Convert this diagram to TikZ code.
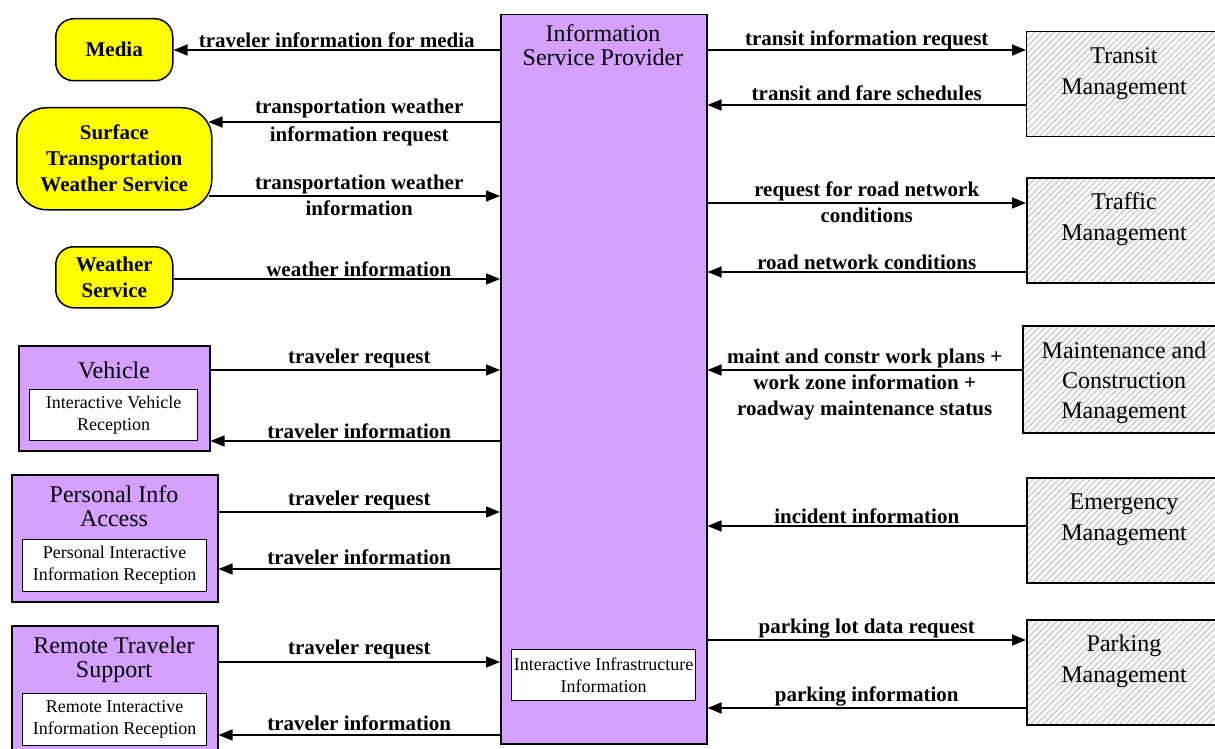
\documentclass[tikz,border=0pt]{standalone}
\usepackage{fontspec}
\setmainfont{Liberation Serif}
\usetikzlibrary{arrows.meta,patterns.meta}
\definecolor{ispc}{RGB}{213,160,255}
\definecolor{yel}{RGB}{255,255,0}
\definecolor{hatchbg}{RGB}{248,248,248}
\definecolor{hatchln}{RGB}{200,200,200}
\tikzset{
 box/.style={draw, line width=1.5pt, anchor=north west, inner sep=0pt},
 pbox/.style={box, fill=ispc},
 ybox/.style={box, fill=yel, font=\fontsize{21}{26}\selectfont\bfseries, align=center},
 hbox/.style={box, preaction={fill=hatchbg}, pattern={Lines[angle=45,distance=4.5pt,line width=1.1pt]}, pattern color=hatchln},
 htxt/.style={font=\fontsize{24}{31}\selectfont, align=center, inner sep=0pt},
 ibox/.style={draw, line width=1.2pt, fill=white, anchor=north west, inner sep=0pt, font=\fontsize{18}{22}\selectfont, align=center},
 ttl/.style={font=\fontsize{24}{24}\selectfont, align=center, inner sep=0pt},
 arr/.style={line width=1.6pt, -{Triangle[length=14pt,width=11pt]}},
 lab/.style={font=\fontsize{21}{26}\selectfont\bfseries, align=center, inner sep=1pt},
 labb/.style={lab, below, yshift=-3pt},
}
\begin{document}
\begin{tikzpicture}[x=1pt,y=-1pt]
\useasboundingbox (0,0) rectangle (1215,749);
% central box
\node[pbox, minimum width=206pt, minimum height=729pt] (isp) at (500,14) {};
\node[ttl] (ispt) at (603,45) {Information\\Service Provider};
\node[ibox, minimum width=184pt, minimum height=51pt] (ispi) at (511,649) {Interactive Infrastructure\\Information};
% yellow boxes
\node[ybox, rounded corners=18pt, minimum width=117pt, minimum height=62pt] (media) at (55,18) {Media};
\node[ybox, rounded corners=30pt, minimum width=195pt, minimum height=102pt] (stws) at (16,107) {Surface\\Transportation\\Weather Service};
\node[ybox, rounded corners=18pt, minimum width=117pt, minimum height=61pt] (ws) at (55,246) {Weather\\Service};
% purple client boxes
\node[pbox, minimum width=191pt, minimum height=105pt] (veh) at (18,345) {};
\node[ttl] (veht) at (114,370) {Vehicle};
\node[ibox, minimum width=168pt, minimum height=51pt] (vehi) at (29,389) {Interactive Vehicle\\Reception};
\node[pbox, minimum width=206pt, minimum height=127pt] (pia) at (11,474) {};
\node[ttl] (piat) at (114,506) {Personal Info\\Access};
\node[ibox, minimum width=184pt, minimum height=52pt] (piai) at (22,539) {Personal Interactive\\Information Reception};
\node[pbox, minimum width=206pt, minimum height=140pt] (rts) at (11,625) {};
\node[ttl] (rtst) at (114,660) {Remote Traveler\\Support};
\node[ibox, minimum width=184pt, minimum height=52pt] (rtsi) at (22,693) {Remote Interactive\\Information Reception};
% hatched boxes
\node[hbox, minimum width=196pt, minimum height=105pt] (tm) at (1026,31) {};
\node[htxt] (tmt) at (1124,74) {Transit\\Management};
\node[hbox, minimum width=196pt, minimum height=105pt] (trm) at (1026,177) {};
\node[htxt] (trmt) at (1124,219) {Traffic\\Management};
\node[hbox, minimum width=200pt, minimum height=107pt] (mcm) at (1022,325) {};
\node[htxt, font=\fontsize{24}{30}\selectfont] (mcmt) at (1124,383) {Maintenance and\\Construction\\Management};
\node[hbox, minimum width=196pt, minimum height=105pt] (em) at (1026,477) {};
\node[htxt] (emt) at (1124,520) {Emergency\\Management};
\node[hbox, minimum width=196pt, minimum height=105pt] (pm) at (1026,619) {};
\node[htxt] (pmt) at (1124,661) {Parking\\Management};
% left connectors
\draw[arr] (isp.west |- 0,50) -- node[lab,above]{traveler information for media} (media.east |- 0,50);
\draw[arr] (isp.west |- 0,122) -- node[lab,above,yshift=2pt,xshift=5pt]{transportation weather} node[labb,xshift=5pt]{information request} ([xshift=-4pt]stws.east |- 0,122);
\draw[arr] ([xshift=-4pt]stws.east |- 0,196) -- node[lab,above,xshift=5pt]{transportation weather} node[labb,xshift=5pt]{information} (isp.west |- 0,196);
\draw[arr] (ws.east |- 0,279) -- node[lab,above,xshift=22pt]{weather information} (isp.west |- 0,279);
\draw[arr] (veh.east |- 0,370) -- node[lab,above,xshift=4pt]{traveler request} (isp.west |- 0,370);
\draw[arr] (isp.west |- 0,441) -- node[lab,above,xshift=4pt]{traveler information} (veh.east |- 0,441);
\draw[arr] (pia.east |- 0,512) -- node[lab,above]{traveler request} (isp.west |- 0,512);
\draw[arr] (isp.west |- 0,569) -- node[lab,above,yshift=3pt]{traveler information} (pia.east |- 0,569);
\draw[arr] (rts.east |- 0,662) -- node[lab,above,yshift=1pt]{traveler request} (isp.west |- 0,662);
\draw[arr] (isp.west |- 0,735) -- node[lab,above,yshift=3pt]{traveler information} (rts.east |- 0,735);
% right connectors
\draw[arr] (isp.east |- 0,50) -- node[lab,above,yshift=-2pt]{transit information request} (tm.west |- 0,50);
\draw[arr] (tm.west |- 0,105) -- node[lab,above,yshift=2pt]{transit and fare schedules} (isp.east |- 0,105);
\draw[arr] (isp.east |- 0,203) -- node[lab,above]{request for road network} node[labb]{conditions} (trm.west |- 0,203);
\draw[arr] (trm.west |- 0,272) -- node[lab,above]{road network conditions} (isp.east |- 0,272);
\draw[arr] (mcm.west |- 0,370) -- node[lab,above]{maint and constr work plans +} node[labb]{work zone information +\\roadway maintenance status} (isp.east |- 0,370);
\draw[arr] (em.west |- 0,526) -- node[lab,above]{incident information} (isp.east |- 0,526);
\draw[arr] (isp.east |- 0,640) -- node[lab,above]{parking lot data request} (pm.west |- 0,640);
\draw[arr] (pm.west |- 0,708) -- node[lab,above]{parking information} (isp.east |- 0,708);
\end{tikzpicture}
\end{document}
